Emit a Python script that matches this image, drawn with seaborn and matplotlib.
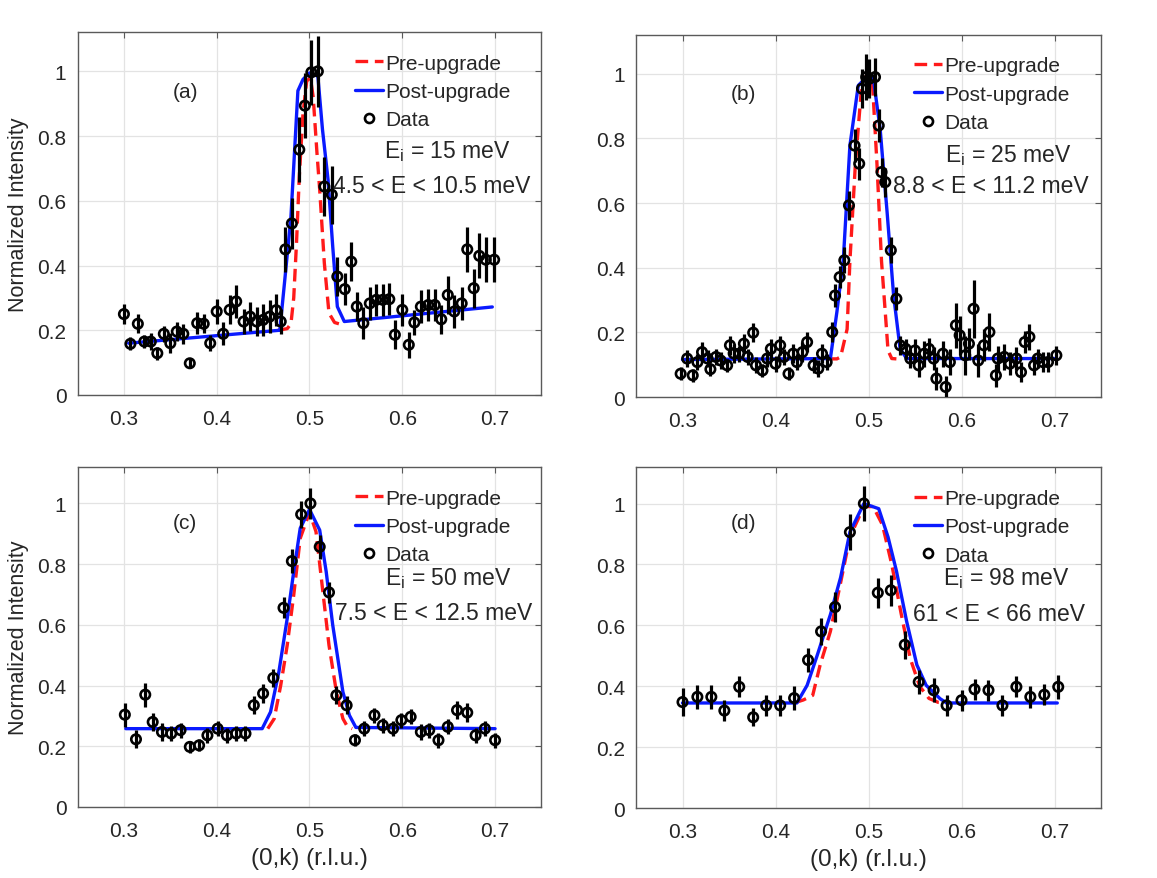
import matplotlib
matplotlib.use('Agg')
import matplotlib.pyplot as plt
from matplotlib.lines import Line2D
import numpy as np
import seaborn as sns

# ---- panel (a): Ei = 15 meV ----
a_k = [0.300, 0.307, 0.315, 0.322, 0.329, 0.336, 0.343, 0.350, 0.357, 0.364,
       0.371, 0.379, 0.386, 0.393, 0.400, 0.407, 0.414, 0.421, 0.429, 0.436,
       0.443, 0.450, 0.457, 0.464, 0.469, 0.474, 0.481, 0.489, 0.495, 0.502,
       0.509, 0.516, 0.524, 0.530, 0.538, 0.545, 0.551, 0.558, 0.565, 0.572,
       0.579, 0.586, 0.592, 0.600, 0.607, 0.613, 0.620, 0.628, 0.635, 0.642,
       0.649, 0.656, 0.664, 0.670, 0.677, 0.683, 0.690, 0.699]
a_int = [0.25, 0.158, 0.22, 0.165, 0.165, 0.129, 0.189, 0.16, 0.196, 0.189,
         0.098, 0.222, 0.22, 0.16, 0.258, 0.189, 0.263, 0.289, 0.227, 0.242,
         0.227, 0.232, 0.242, 0.262, 0.227, 0.45, 0.53, 0.758, 0.894, 0.997,
         1.0, 0.644, 0.619, 0.366, 0.327, 0.412, 0.273, 0.222, 0.283, 0.294,
         0.294, 0.296, 0.186, 0.263, 0.155, 0.224, 0.273, 0.278, 0.278, 0.234,
         0.309, 0.258, 0.283, 0.45, 0.33, 0.43, 0.418, 0.418]
a_err = [0.03, 0.02, 0.03, 0.02, 0.025, 0.02, 0.025, 0.03, 0.03, 0.03,
         0.015, 0.035, 0.03, 0.025, 0.04, 0.035, 0.045, 0.05, 0.04, 0.045,
         0.045, 0.05, 0.05, 0.05, 0.04, 0.07, 0.08, 0.1, 0.1, 0.1,
         0.11, 0.09, 0.09, 0.06, 0.05, 0.06, 0.045, 0.05, 0.05, 0.05,
         0.05, 0.05, 0.045, 0.05, 0.04, 0.04, 0.05, 0.05, 0.05, 0.045,
         0.06, 0.05, 0.05, 0.07, 0.06, 0.07, 0.07, 0.07]
a_post_k = [0.305, 0.468, 0.473, 0.480, 0.4875, 0.493, 0.500, 0.509, 0.514,
            0.520, 0.525, 0.530, 0.5375, 0.697]
a_post = [0.16, 0.20, 0.345, 0.55, 0.94, 0.975, 0.995, 0.985, 0.82,
          0.665, 0.46, 0.273, 0.227, 0.272]
a_pre_k = [0.466, 0.476, 0.480, 0.483, 0.486, 0.489, 0.493, 0.497, 0.501,
           0.504, 0.508, 0.511, 0.516, 0.521, 0.527, 0.534]
a_pre = [0.20, 0.205, 0.22, 0.30, 0.47, 0.675, 0.87, 0.97, 0.98,
         0.92, 0.75, 0.634, 0.407, 0.253, 0.224, 0.218]

# ---- panel (b): Ei = 25 meV ----
b_k = [0.298, 0.305, 0.311, 0.316, 0.321, 0.327, 0.330, 0.336, 0.341, 0.348,
       0.351, 0.355, 0.361, 0.366, 0.370, 0.376, 0.379, 0.386, 0.391, 0.395,
       0.400, 0.405, 0.409, 0.414, 0.419, 0.423, 0.429, 0.434, 0.441, 0.446,
       0.450, 0.455, 0.461, 0.464, 0.469, 0.474, 0.479, 0.485, 0.490, 0.493,
       0.4975, 0.501, 0.507, 0.511, 0.514, 0.518, 0.524, 0.530, 0.534, 0.540,
       0.545, 0.550, 0.554, 0.560, 0.565, 0.570, 0.573, 0.580, 0.583, 0.5875,
       0.594, 0.598, 0.604, 0.608, 0.613, 0.618, 0.624, 0.630, 0.637, 0.639,
       0.646, 0.652, 0.659, 0.664, 0.668, 0.673, 0.678, 0.682, 0.6875, 0.693,
       0.702]
b_int = [0.072, 0.119, 0.067, 0.108, 0.139, 0.119, 0.086, 0.124, 0.113, 0.098,
         0.16, 0.135, 0.134, 0.165, 0.124, 0.199, 0.098, 0.082, 0.119, 0.149,
         0.103, 0.16, 0.124, 0.072, 0.134, 0.108, 0.139, 0.170, 0.098, 0.088,
         0.134, 0.108, 0.201, 0.314, 0.371, 0.423, 0.593, 0.778, 0.722, 0.954,
         0.99, 0.985, 0.99, 0.84, 0.696, 0.665, 0.454, 0.304, 0.16, 0.149,
         0.119, 0.144, 0.098, 0.134, 0.149, 0.119, 0.057, 0.134, 0.031, 0.108,
         0.222, 0.191, 0.129, 0.165, 0.273, 0.113, 0.16, 0.201, 0.067, 0.119,
         0.124, 0.103, 0.119, 0.077, 0.17, 0.186, 0.098, 0.119, 0.108, 0.108,
         0.129]
b_err = [0.02, 0.025, 0.02, 0.025, 0.03, 0.025, 0.02, 0.025, 0.025, 0.02,
         0.03, 0.03, 0.025, 0.03, 0.025, 0.03, 0.025, 0.02, 0.025, 0.03,
         0.025, 0.03, 0.025, 0.02, 0.03, 0.025, 0.03, 0.03, 0.025, 0.025,
         0.03, 0.025, 0.03, 0.035, 0.035, 0.04, 0.045, 0.05, 0.05, 0.06,
         0.07, 0.06, 0.06, 0.05, 0.045, 0.045, 0.04, 0.035, 0.03, 0.03,
         0.03, 0.035, 0.035, 0.04, 0.035, 0.035, 0.035, 0.04, 0.035, 0.04,
         0.07, 0.06, 0.06, 0.05, 0.09, 0.05, 0.05, 0.06, 0.035, 0.04,
         0.04, 0.035, 0.035, 0.03, 0.035, 0.04, 0.03, 0.03, 0.03, 0.03,
         0.03]
b_post_k = [0.300, 0.459, 0.466, 0.473, 0.480, 0.489, 0.498, 0.505, 0.5125,
            0.520, 0.527, 0.534, 0.541, 0.700]
b_post = [0.116, 0.119, 0.263, 0.428, 0.778, 0.964, 0.99, 0.99, 0.83,
          0.572, 0.314, 0.149, 0.119, 0.119]
b_pre_k = [0.455, 0.466, 0.470, 0.477, 0.480, 0.486, 0.493, 0.498, 0.504,
           0.509, 0.514, 0.518, 0.521, 0.525, 0.530]
b_pre = [0.118, 0.118, 0.124, 0.21, 0.42, 0.727, 0.974, 0.995, 0.985,
         0.727, 0.42, 0.263, 0.144, 0.119, 0.118]

# ---- panel (c): Ei = 50 meV ----
c_k = [0.301, 0.313, 0.323, 0.331, 0.341, 0.351, 0.361, 0.371, 0.381, 0.390,
       0.401, 0.411, 0.421, 0.431, 0.440, 0.450, 0.461, 0.472, 0.481, 0.491,
       0.501, 0.511, 0.521, 0.529, 0.540, 0.549, 0.559, 0.570, 0.579, 0.590,
       0.599, 0.609, 0.620, 0.629, 0.639, 0.649, 0.659, 0.670, 0.679, 0.689,
       0.700]
c_int = [0.304, 0.223, 0.370, 0.280, 0.247, 0.242, 0.253, 0.198, 0.203, 0.236,
         0.258, 0.236, 0.242, 0.242, 0.335, 0.374, 0.425, 0.656, 0.81, 0.964,
         1.0, 0.857, 0.707, 0.368, 0.335, 0.22, 0.258, 0.302, 0.269, 0.258,
         0.286, 0.297, 0.247, 0.253, 0.22, 0.264, 0.319, 0.311, 0.236, 0.258,
         0.22]
c_err = [0.04, 0.03, 0.04, 0.03, 0.03, 0.025, 0.025, 0.02, 0.02, 0.025,
         0.025, 0.025, 0.025, 0.025, 0.03, 0.03, 0.03, 0.035, 0.04, 0.045,
         0.05, 0.04, 0.035, 0.03, 0.03, 0.02, 0.025, 0.025, 0.025, 0.025,
         0.025, 0.025, 0.025, 0.025, 0.025, 0.025, 0.03, 0.03, 0.025, 0.025,
         0.025]
c_post_k = [0.302, 0.449, 0.458, 0.467, 0.476, 0.483, 0.490, 0.500, 0.511,
            0.518, 0.525, 0.536, 0.543, 0.550, 0.700]
c_post = [0.258, 0.258, 0.313, 0.445, 0.621, 0.775, 0.918, 0.98, 0.912,
          0.775, 0.60, 0.379, 0.302, 0.262, 0.258]
c_pre_k = [0.455, 0.462, 0.469, 0.476, 0.483, 0.490, 0.500, 0.507, 0.514,
           0.521, 0.529, 0.536, 0.541, 0.546]
c_pre = [0.258, 0.291, 0.401, 0.533, 0.698, 0.885, 0.97, 0.907, 0.72,
         0.533, 0.379, 0.291, 0.264, 0.258]

# ---- panel (d): Ei = 98 meV ----
d_k = [0.300, 0.316, 0.331, 0.345, 0.361, 0.376, 0.390, 0.405, 0.420, 0.435,
       0.449, 0.464, 0.480, 0.495, 0.510, 0.524, 0.539, 0.554, 0.570, 0.584,
       0.600, 0.614, 0.629, 0.644, 0.659, 0.674, 0.689, 0.704]
d_int = [0.348, 0.365, 0.365, 0.320, 0.398, 0.298, 0.337, 0.337, 0.361, 0.486,
         0.580, 0.660, 0.906, 1.0, 0.707, 0.715, 0.536, 0.414, 0.387, 0.337,
         0.354, 0.390, 0.387, 0.337, 0.398, 0.365, 0.372, 0.398]
d_err = [0.045, 0.04, 0.04, 0.035, 0.035, 0.03, 0.035, 0.035, 0.04, 0.04,
         0.045, 0.05, 0.058, 0.058, 0.05, 0.05, 0.045, 0.04, 0.04, 0.035,
         0.035, 0.035, 0.035, 0.035, 0.035, 0.035, 0.035, 0.04]
d_post_k = [0.300, 0.423, 0.434, 0.445, 0.459, 0.470, 0.480, 0.495, 0.511,
            0.521, 0.530, 0.541, 0.552, 0.562, 0.577, 0.584, 0.703]
d_post = [0.345, 0.345, 0.403, 0.503, 0.635, 0.757, 0.906, 1.0, 0.983,
          0.89, 0.779, 0.613, 0.47, 0.403, 0.359, 0.345, 0.345]
d_pre_k = [0.420, 0.430, 0.440, 0.448, 0.459, 0.470, 0.480, 0.495, 0.505,
           0.515, 0.525, 0.535, 0.545, 0.555, 0.565, 0.575, 0.583]
d_pre = [0.345, 0.355, 0.37, 0.47, 0.58, 0.74, 0.89, 0.99, 0.99,
         0.93, 0.80, 0.64, 0.49, 0.40, 0.36, 0.347, 0.345]

panel_tags = ['(a)', '(b)', '(c)', '(d)']
ei_labels = ['E$_i$ = 15 meV', 'E$_i$ = 25 meV', 'E$_i$ = 50 meV', 'E$_i$ = 98 meV']
e_ranges = ['4.5 < E < 10.5 meV', '8.8 < E < 11.2 meV',
            '7.5 < E < 12.5 meV', '61 < E < 66 meV']
x_ticks = [0.3, 0.4, 0.5, 0.6, 0.7]
y_ticks = [0, 0.2, 0.4, 0.6, 0.8, 1]
y_ticklabels = ['0', '0.2', '0.4', '0.6', '0.8', '1']

panels = [
    (a_k, a_int, a_err, a_post_k, a_post, a_pre_k, a_pre),
    (b_k, b_int, b_err, b_post_k, b_post, b_pre_k, b_pre),
    (c_k, c_int, c_err, c_post_k, c_post, c_pre_k, c_pre),
    (d_k, d_int, d_err, d_post_k, d_post, d_pre_k, d_pre),
]

sns.set_style('white')
plt.rcParams['font.family'] = ['Liberation Sans', 'DejaVu Sans']
plt.rcParams['mathtext.default'] = 'regular'

fig = plt.figure(figsize=(11.57, 8.79), dpi=100)
rects = [(0.067, 0.5495, 0.401, 0.4124),
         (0.5497, 0.5472, 0.4019, 0.4118),
         (0.067, 0.0808, 0.401, 0.3868),
         (0.5497, 0.0796, 0.4019, 0.3880)]
legend_top = [0.942, 0.941, 0.936, 0.936]
ei_pos = [(0.66, 0.674), (0.665, 0.671), (0.663, 0.676), (0.66, 0.676)]
range_pos = [(0.551, 0.577), (0.553, 0.583), (0.555, 0.571), (0.596, 0.571)]

spine_col = '#5a5a5a'
text_col = '#262626'
fs = 15
fs_note = 16.5

for i, (k, inten, err, pk, post, rk, pre) in enumerate(panels):
    ax = fig.add_axes(rects[i])
    ax.grid(True, color='#e3e3e3', lw=0.9)
    ax.set_axisbelow(True)

    sns.lineplot(x=rk, y=pre, ax=ax, color='#ff1a1a', lw=2.4, ls=(0, (3.8, 2.0)),
                 sort=False, estimator=None, zorder=2)
    sns.lineplot(x=pk, y=post, ax=ax, color='#0a1aff', lw=2.4,
                 sort=False, estimator=None, zorder=2)
    ax.errorbar(k, inten, yerr=err, fmt='none', ecolor='black', elinewidth=2.3,
                capsize=0, zorder=3)
    sns.scatterplot(x=k, y=inten, ax=ax, marker='o', s=46, facecolor='none',
                    edgecolor='black', linewidth=1.9, zorder=4)

    ax.set_xlim(0.25, 0.75)
    ax.set_ylim(0, 1.12)
    ax.set_xticks(x_ticks)
    ax.set_xticklabels([f'{t:.1f}' for t in x_ticks])
    ax.set_yticks(y_ticks)
    ax.set_yticklabels(y_ticklabels)
    ax.tick_params(direction='in', length=4, width=0.8, color=spine_col,
                   top=True, right=True, labelsize=fs, labelcolor=text_col, pad=8)
    ax.tick_params(axis='x', pad=10)
    for sp in ax.spines.values():
        sp.set_color(spine_col)
        sp.set_linewidth(1.0)

    if i in (0, 2):
        ax.set_ylabel('Normalized Intensity', fontsize=15.5, color=text_col, labelpad=6)
    else:
        ax.set_ylabel('')
    if i in (2, 3):
        ax.set_xlabel('(0,k) (r.l.u.)', fontsize=17.5, color=text_col, labelpad=5)
    else:
        ax.set_xlabel('')

    ax.text(0.232, 0.838, panel_tags[i], transform=ax.transAxes, fontsize=fs,
            color=text_col, ha='center', va='center')

    handles = [Line2D([], [], color='#ff1a1a', lw=2.4, ls=(0, (3.8, 2.0))),
               Line2D([], [], color='#0a1aff', lw=2.4),
               Line2D([], [], ls='none', marker='o', ms=6.5, mfc='none',
                      mec='black', mew=1.9)]
    ax.legend(handles, ['Pre-upgrade', 'Post-upgrade', 'Data'], loc='upper left',
              bbox_to_anchor=(0.598, legend_top[i]), frameon=False, fontsize=fs,
              borderpad=0, borderaxespad=0, handlelength=1.35, handletextpad=0.1,
              labelspacing=0.45, labelcolor=text_col)
    ax.text(ei_pos[i][0], ei_pos[i][1], ei_labels[i], transform=ax.transAxes,
            fontsize=fs_note, color=text_col, ha='left', va='center')
    ax.text(range_pos[i][0], range_pos[i][1], e_ranges[i], transform=ax.transAxes,
            fontsize=fs_note, color=text_col, ha='left', va='center')

fig.savefig('out.png', dpi=100)
